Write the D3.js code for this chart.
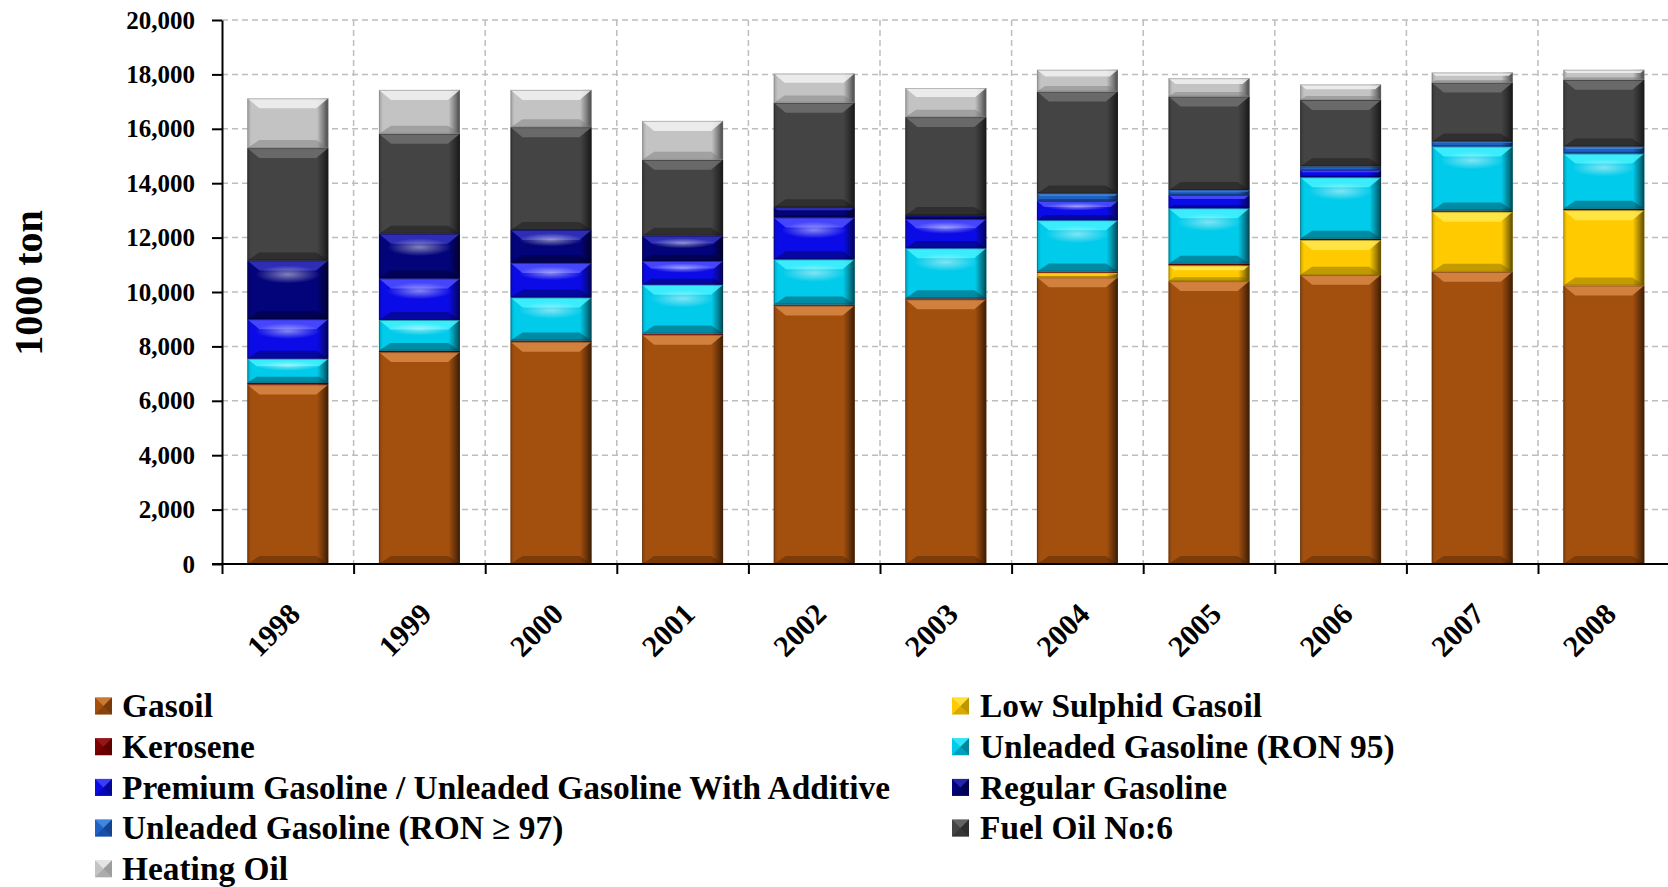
<!DOCTYPE html>
<html>
<head>
<meta charset="utf-8">
<script src="https://cdn.jsdelivr.net/npm/d3@7"></script>
<style>
  html, body { margin: 0; padding: 0; background: #fff; }
  svg { display: block; }
  text { font-family: "Liberation Serif", "Times New Roman", serif; font-weight: bold; fill: #000; }
</style>
</head>
<body>
<svg id="chart" width="1668" height="887"></svg>
<script>
// ---------------- DATA ----------------
const years = ["1998","1999","2000","2001","2002","2003","2004","2005","2006","2007","2008"];
const yTicks = [0, 2000, 4000, 6000, 8000, 10000, 12000, 14000, 16000, 18000, 20000];

const gasoil     = [6600, 7790, 8170, 8430, 9500, 9730, 10540, 10400, 10630, 10740, 10240];
const lowSulphid = [0, 0, 0, 0, 0, 0, 170, 580, 1280, 2210, 2770];
const kerosene   = [60, 50, 50, 40, 40, 40, 40, 60, 50, 50, 50];
const ron95      = [890, 1130, 1580, 1800, 1660, 1840, 1890, 2040, 2260, 2350, 2030];
const premium    = [1450, 1530, 1270, 870, 1540, 1070, 710, 490, 260, 0, 0];
const regular    = [2160, 1640, 1210, 930, 380, 150, 0, 0, 0, 0, 0];
const ron97      = [0, 0, 0, 0, 0, 0, 270, 180, 140, 180, 260];
const fuelOil    = [4130, 3680, 3780, 2790, 3840, 3600, 3750, 3440, 2440, 2170, 2450];
const heatingOil = [1830, 1610, 1370, 1430, 1070, 1070, 800, 670, 570, 370, 370];

// series in stacking order (bottom -> top)
const seriesNames = ["Gasoil", "Low Sulphid Gasoil", "Kerosene", "Unleaded Gasoline (RON 95)",
  "Premium Gasoline / Unleaded Gasoline With Additive", "Regular Gasoline",
  "Unleaded Gasoline (RON \u2265 97)", "Fuel Oil No:6", "Heating Oil"];
const seriesValues = [gasoil, lowSulphid, kerosene, ron95, premium, regular, ron97, fuelOil, heatingOil];

// legend order (as in the reference, two columns)
const legendLeft  = ["Gasoil", "Kerosene", "Premium Gasoline / Unleaded Gasoline With Additive",
  "Unleaded Gasoline (RON \u2265 97)", "Heating Oil"];
const legendRight = ["Low Sulphid Gasoil", "Unleaded Gasoline (RON 95)", "Regular Gasoline", "Fuel Oil No:6"];

// ---------------- STYLE ----------------
const palette = {
  "Gasoil":             {base: "#A3500F", light: "#D98A45", dark: "#4d2404"},
  "Low Sulphid Gasoil": {base: "#FFCB00", light: "#FFEA50", dark: "#7a6000"},
  "Kerosene":           {base: "#7E0000", light: "#A02020", dark: "#3a0000"},
  "Unleaded Gasoline (RON 95)": {base: "#00CBEA", light: "#45F2FF", dark: "#003f50"},
  "Premium Gasoline / Unleaded Gasoline With Additive": {base: "#0B0BE8", light: "#5050FF", dark: "#00004a"},
  "Regular Gasoline":   {base: "#03037A", light: "#3535C0", dark: "#00002a"},
  "Unleaded Gasoline (RON \u2265 97)": {base: "#1D62C4", light: "#4F95EA", dark: "#08265c"},
  "Fuel Oil No:6":      {base: "#444444", light: "#707070", dark: "#161616"},
  "Heating Oil":        {base: "#C3C3C3", light: "#F2F2F2", dark: "#777777"}
};

const svg = d3.select("#chart");
const defs = svg.append("defs");

// horizontal shading gradient (dark right edge)
const hg = defs.append("linearGradient").attr("id", "hshade").attr("x1", "0").attr("x2", "1").attr("y1", "0").attr("y2", "0");
[[0, 0.18], [0.05, 0.0], [0.86, 0.0], [0.94, 0.35], [1, 0.65]].forEach(([o, a]) =>
  hg.append("stop").attr("offset", o).attr("stop-color", "#000").attr("stop-opacity", a));

// glossy highlight for the gasoline shades
const rg = defs.append("radialGradient").attr("id", "gloss").attr("cx", "0.5").attr("cy", "0.5").attr("r", "0.5");
rg.append("stop").attr("offset", 0).attr("stop-color", "#fff").attr("stop-opacity", 0.5);
rg.append("stop").attr("offset", 1).attr("stop-color", "#fff").attr("stop-opacity", 0);

// ---------------- SCALES ----------------
const plotLeft = 222, plotTop = 20, plotBottom = 564, step = 131.6;
const y = d3.scaleLinear().domain([0, 20000]).range([plotBottom, plotTop]);
const x = d3.scaleBand().domain(years)
  .range([plotLeft, plotLeft + years.length * step])
  .paddingInner(0.385).paddingOuter(0.1925);
const xb = d3.scaleLinear().domain([0, years.length]).range(x.range());

// ---------------- GRID ----------------
const grid = svg.append("g").attr("stroke", "#bdbdbd").attr("stroke-width", 1.5).attr("stroke-dasharray", "6,4");
grid.selectAll("line.h").data(yTicks.filter(d => d > 0)).join("line")
  .attr("x1", plotLeft).attr("x2", 1668).attr("y1", d => y(d)).attr("y2", d => y(d));
grid.selectAll("line.v").data(d3.range(1, years.length + 1)).join("line")
  .attr("x1", d => xb(d)).attr("x2", d => xb(d)).attr("y1", plotTop).attr("y2", plotBottom);

// ---------------- BARS ----------------
const table = years.map((yr, i) => {
  const row = {year: yr};
  seriesNames.forEach((s, k) => row[s] = seriesValues[k][i]);
  return row;
});
const stacked = d3.stack().keys(seriesNames)(table);

function bevelSegment(g, x0, w, yTop, yBot, c, glossy) {
  const h = yBot - yTop;
  if (h <= 0.2) return;
  g.append("rect").attr("x", x0).attr("y", yTop).attr("width", w).attr("height", h).attr("fill", c.base);
  g.append("rect").attr("x", x0).attr("y", yTop).attr("width", w).attr("height", h).attr("fill", "url(#hshade)");
  if (h > 4) {
    const b = Math.min(10, h / 3.2);
    const s = b * 1.2;
    // top bevel (light)
    g.append("path").attr("d", `M${x0},${yTop}H${x0 + w}L${x0 + w - s},${yTop + b}H${x0 + s}Z`)
      .attr("fill", c.light).attr("opacity", 0.85);
    // bottom bevel (dark)
    g.append("path").attr("d", `M${x0},${yBot}H${x0 + w}L${x0 + w - s},${yBot - b * 0.8}H${x0 + s}Z`)
      .attr("fill", c.dark).attr("opacity", 0.45);
    if (glossy && h > 14) {
      g.append("ellipse").attr("cx", x0 + w / 2).attr("cy", yTop + Math.min(14, h * 0.3))
        .attr("rx", w * 0.4).attr("ry", Math.min(9, h * 0.2)).attr("fill", "url(#gloss)");
    }
  }
  g.append("rect").attr("x", x0 + 0.5).attr("y", yTop + 0.5).attr("width", w - 1).attr("height", Math.max(0, h - 1))
    .attr("fill", "none").attr("stroke", c.dark).attr("stroke-opacity", 0.45).attr("stroke-width", 1);
}

const barsG = svg.append("g");
stacked.forEach(layer => {
  const c = palette[layer.key];
  const glossy = /Gasoline/.test(layer.key);
  const lg = barsG.append("g").attr("class", "layer");
  layer.forEach(d => {
    bevelSegment(lg, x(d.data.year), x.bandwidth(), y(d[1]), y(d[0]), c, glossy);
  });
});

// ---------------- AXES ----------------
const yAxis = svg.append("g").attr("transform", `translate(${plotLeft},0)`)
  .call(d3.axisLeft(y).tickValues(yTicks).tickFormat(d3.format(",")).tickSize(10).tickSizeOuter(0).tickPadding(17));
yAxis.selectAll("path,line").attr("stroke", "#000").attr("stroke-width", 2);
yAxis.selectAll("text").attr("font-size", 25).attr("font-family", "Liberation Serif").attr("font-weight", "bold").attr("fill", "#000");

const xAxis = svg.append("g").attr("transform", `translate(0,${plotBottom})`)
  .call(d3.axisBottom(xb).tickValues(d3.range(0, years.length + 1)).tickFormat("").tickSize(10).tickSizeOuter(0));
xAxis.select("path").attr("d", `M${plotLeft - 10},0H1668`);
xAxis.selectAll("path,line").attr("stroke", "#000").attr("stroke-width", 2);

svg.append("g").selectAll("text").data(years).join("text")
  .attr("transform", d => `translate(${x(d) + x.bandwidth() / 2 + 14},${plotBottom + 52}) rotate(-45)`)
  .attr("text-anchor", "end").attr("font-size", 30).text(d => d);

svg.append("text").attr("transform", `translate(42,283) rotate(-90)`)
  .attr("text-anchor", "middle").attr("font-size", 40).text("1000 ton");

// ---------------- LEGEND ----------------
const rowY = i => 706 + i * 40.7;
function legendCol(names, sx, tx) {
  const g = svg.append("g");
  names.forEach((n, i) => {
    const c = palette[n];
    const cy = rowY(i), sz = 17;
    const sg = g.append("g");
    sg.append("rect").attr("x", sx).attr("y", cy - sz / 2).attr("width", sz).attr("height", sz).attr("fill", c.base);
    sg.append("path").attr("d", `M${sx},${cy - sz / 2}H${sx + sz}L${sx + sz / 2},${cy}Z`).attr("fill", c.light).attr("opacity", 0.7);
    sg.append("path").attr("d", `M${sx + sz},${cy - sz / 2}V${cy + sz / 2}L${sx + sz / 2},${cy}Z`).attr("fill", c.dark).attr("opacity", 0.5);
    sg.append("path").attr("d", `M${sx},${cy + sz / 2}H${sx + sz}L${sx + sz / 2},${cy}Z`).attr("fill", c.dark).attr("opacity", 0.3);
    g.append("text").attr("x", tx).attr("y", cy).attr("dy", "0.34em").attr("font-size", 33.4).text(n);
  });
}
legendCol(legendLeft, 95, 122);
legendCol(legendRight, 952, 980);
</script>
</body>
</html>
